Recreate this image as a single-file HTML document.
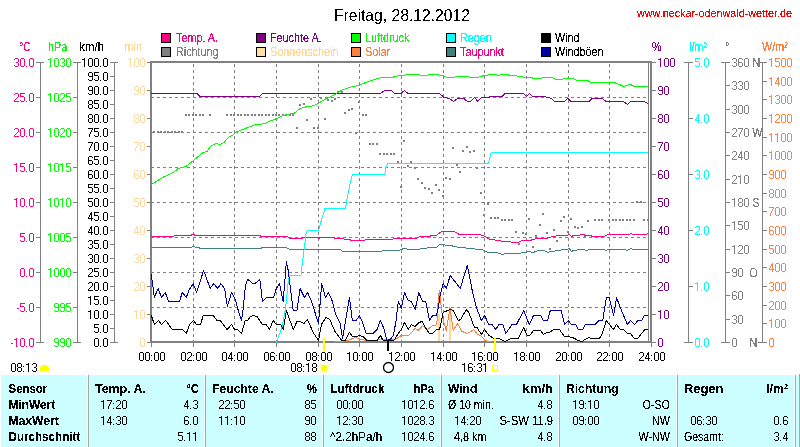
<!DOCTYPE html>
<html><head><meta charset="utf-8"><style>
html,body{margin:0;padding:0;background:#fff;width:800px;height:447px;overflow:hidden}
svg{display:block;font-family:"Liberation Sans",sans-serif}
</style></head><body>
<svg width="800" height="447" viewBox="0 0 800 447">
<rect width="800" height="447" fill="#fff"/>
<rect x="1" y="375" width="798" height="72" fill="#CCFFFF"/>
<rect x="87" y="375" width="1" height="72" fill="#FFFFFF"/>
<rect x="88" y="375" width="1" height="72" fill="#ACA899"/>
<rect x="204" y="375" width="1" height="72" fill="#FFFFFF"/>
<rect x="205" y="375" width="1" height="72" fill="#ACA899"/>
<rect x="322" y="375" width="1" height="72" fill="#FFFFFF"/>
<rect x="323" y="375" width="1" height="72" fill="#ACA899"/>
<rect x="440" y="375" width="1" height="72" fill="#FFFFFF"/>
<rect x="441" y="375" width="1" height="72" fill="#ACA899"/>
<rect x="558" y="375" width="1" height="72" fill="#FFFFFF"/>
<rect x="559" y="375" width="1" height="72" fill="#ACA899"/>
<rect x="676" y="375" width="1" height="72" fill="#FFFFFF"/>
<rect x="677" y="375" width="1" height="72" fill="#ACA899"/>
<rect x="794" y="375" width="1" height="72" fill="#FFFFFF"/>
<rect x="795" y="375" width="1" height="72" fill="#ACA899"/>
<rect x="799" y="374" width="1" height="73" fill="#ACA899"/>
<g shape-rendering="crispEdges">
<path d="M193.5 64V341 M234.5 64V341 M276.5 64V341 M318.5 64V341 M359.5 64V341 M401.5 64V341 M443.5 64V341 M484.5 64V341 M526.5 64V341 M568.5 64V341 M609.5 64V341 M151 97.5H648 M151 132.5H648 M151 167.5H648 M151 202.5H648 M151 237.5H648 M151 272.5H648 M151 307.5H648" stroke="#808080" stroke-width="1" stroke-dasharray="3 3" fill="none"/>
<rect x="161.5" y="33.5" width="9" height="9" fill="#FF0080" stroke="#000" stroke-width="1"/>
<rect x="161.5" y="47.5" width="9" height="9" fill="#808080" stroke="#000" stroke-width="1"/>
<rect x="256.5" y="33.5" width="9" height="9" fill="#800080" stroke="#000" stroke-width="1"/>
<rect x="256.5" y="47.5" width="9" height="9" fill="#FFE0A0" stroke="#000" stroke-width="1"/>
<rect x="351.5" y="33.5" width="9" height="9" fill="#00FF00" stroke="#000" stroke-width="1"/>
<rect x="351.5" y="47.5" width="9" height="9" fill="#FF8040" stroke="#000" stroke-width="1"/>
<rect x="446.5" y="33.5" width="9" height="9" fill="#00FFFF" stroke="#000" stroke-width="1"/>
<rect x="446.5" y="47.5" width="9" height="9" fill="#408080" stroke="#000" stroke-width="1"/>
<rect x="541.5" y="33.5" width="9" height="9" fill="#000" stroke="#000" stroke-width="1"/>
<rect x="541.5" y="47.5" width="9" height="9" fill="#0000A8" stroke="#000" stroke-width="1"/>
<rect x="150" y="61" width="2" height="282" fill="#808080"/>
<rect x="150" y="61" width="502" height="2" fill="#808080"/>
<rect x="150" y="341" width="502" height="2" fill="#808080"/>
<rect x="650" y="61" width="2" height="282" fill="#808080"/>
<rect x="648" y="63" width="1" height="278" fill="#808080"/>
<line x1="40.5" y1="62" x2="40.5" y2="343" stroke="#808080" stroke-width="1"/>
<line x1="36" y1="62.5" x2="44" y2="62.5" stroke="#808080" stroke-width="1"/>
<line x1="36" y1="97.5" x2="41" y2="97.5" stroke="#808080" stroke-width="1"/>
<line x1="36" y1="132.5" x2="41" y2="132.5" stroke="#808080" stroke-width="1"/>
<line x1="36" y1="167.5" x2="41" y2="167.5" stroke="#808080" stroke-width="1"/>
<line x1="36" y1="202.5" x2="41" y2="202.5" stroke="#808080" stroke-width="1"/>
<line x1="36" y1="237.5" x2="41" y2="237.5" stroke="#808080" stroke-width="1"/>
<line x1="36" y1="272.5" x2="41" y2="272.5" stroke="#808080" stroke-width="1"/>
<line x1="36" y1="307.5" x2="41" y2="307.5" stroke="#808080" stroke-width="1"/>
<line x1="36" y1="342.5" x2="44" y2="342.5" stroke="#808080" stroke-width="1"/>
<line x1="77.5" y1="62" x2="77.5" y2="343" stroke="#808080" stroke-width="1"/>
<line x1="73" y1="62.5" x2="81" y2="62.5" stroke="#808080" stroke-width="1"/>
<line x1="73" y1="97.5" x2="78" y2="97.5" stroke="#808080" stroke-width="1"/>
<line x1="73" y1="132.5" x2="78" y2="132.5" stroke="#808080" stroke-width="1"/>
<line x1="73" y1="167.5" x2="78" y2="167.5" stroke="#808080" stroke-width="1"/>
<line x1="73" y1="202.5" x2="78" y2="202.5" stroke="#808080" stroke-width="1"/>
<line x1="73" y1="237.5" x2="78" y2="237.5" stroke="#808080" stroke-width="1"/>
<line x1="73" y1="272.5" x2="78" y2="272.5" stroke="#808080" stroke-width="1"/>
<line x1="73" y1="307.5" x2="78" y2="307.5" stroke="#808080" stroke-width="1"/>
<line x1="73" y1="342.5" x2="81" y2="342.5" stroke="#808080" stroke-width="1"/>
<line x1="114.5" y1="62" x2="114.5" y2="343" stroke="#808080" stroke-width="1"/>
<line x1="110" y1="62.5" x2="118" y2="62.5" stroke="#808080" stroke-width="1"/>
<line x1="110" y1="76.5" x2="115" y2="76.5" stroke="#808080" stroke-width="1"/>
<line x1="110" y1="90.5" x2="115" y2="90.5" stroke="#808080" stroke-width="1"/>
<line x1="110" y1="104.5" x2="115" y2="104.5" stroke="#808080" stroke-width="1"/>
<line x1="110" y1="118.5" x2="115" y2="118.5" stroke="#808080" stroke-width="1"/>
<line x1="110" y1="132.5" x2="115" y2="132.5" stroke="#808080" stroke-width="1"/>
<line x1="110" y1="146.5" x2="115" y2="146.5" stroke="#808080" stroke-width="1"/>
<line x1="110" y1="160.5" x2="115" y2="160.5" stroke="#808080" stroke-width="1"/>
<line x1="110" y1="174.5" x2="115" y2="174.5" stroke="#808080" stroke-width="1"/>
<line x1="110" y1="188.5" x2="115" y2="188.5" stroke="#808080" stroke-width="1"/>
<line x1="110" y1="202.5" x2="115" y2="202.5" stroke="#808080" stroke-width="1"/>
<line x1="110" y1="216.5" x2="115" y2="216.5" stroke="#808080" stroke-width="1"/>
<line x1="110" y1="230.5" x2="115" y2="230.5" stroke="#808080" stroke-width="1"/>
<line x1="110" y1="244.5" x2="115" y2="244.5" stroke="#808080" stroke-width="1"/>
<line x1="110" y1="258.5" x2="115" y2="258.5" stroke="#808080" stroke-width="1"/>
<line x1="110" y1="272.5" x2="115" y2="272.5" stroke="#808080" stroke-width="1"/>
<line x1="110" y1="286.5" x2="115" y2="286.5" stroke="#808080" stroke-width="1"/>
<line x1="110" y1="300.5" x2="115" y2="300.5" stroke="#808080" stroke-width="1"/>
<line x1="110" y1="314.5" x2="115" y2="314.5" stroke="#808080" stroke-width="1"/>
<line x1="110" y1="328.5" x2="115" y2="328.5" stroke="#808080" stroke-width="1"/>
<line x1="110" y1="342.5" x2="118" y2="342.5" stroke="#808080" stroke-width="1"/>
<line x1="147" y1="62.5" x2="151" y2="62.5" stroke="#808080" stroke-width="1"/>
<line x1="147" y1="90.5" x2="151" y2="90.5" stroke="#808080" stroke-width="1"/>
<line x1="147" y1="118.5" x2="151" y2="118.5" stroke="#808080" stroke-width="1"/>
<line x1="147" y1="146.5" x2="151" y2="146.5" stroke="#808080" stroke-width="1"/>
<line x1="147" y1="174.5" x2="151" y2="174.5" stroke="#808080" stroke-width="1"/>
<line x1="147" y1="202.5" x2="151" y2="202.5" stroke="#808080" stroke-width="1"/>
<line x1="147" y1="230.5" x2="151" y2="230.5" stroke="#808080" stroke-width="1"/>
<line x1="147" y1="258.5" x2="151" y2="258.5" stroke="#808080" stroke-width="1"/>
<line x1="147" y1="286.5" x2="151" y2="286.5" stroke="#808080" stroke-width="1"/>
<line x1="147" y1="314.5" x2="151" y2="314.5" stroke="#808080" stroke-width="1"/>
<line x1="147" y1="342.5" x2="151" y2="342.5" stroke="#808080" stroke-width="1"/>
<line x1="151.5" y1="343" x2="151.5" y2="347" stroke="#808080" stroke-width="1"/>
<line x1="193.5" y1="343" x2="193.5" y2="347" stroke="#808080" stroke-width="1"/>
<line x1="234.5" y1="343" x2="234.5" y2="347" stroke="#808080" stroke-width="1"/>
<line x1="276.5" y1="343" x2="276.5" y2="347" stroke="#808080" stroke-width="1"/>
<line x1="318.5" y1="343" x2="318.5" y2="347" stroke="#808080" stroke-width="1"/>
<line x1="359.5" y1="343" x2="359.5" y2="347" stroke="#808080" stroke-width="1"/>
<line x1="401.5" y1="343" x2="401.5" y2="347" stroke="#808080" stroke-width="1"/>
<line x1="443.5" y1="343" x2="443.5" y2="347" stroke="#808080" stroke-width="1"/>
<line x1="484.5" y1="343" x2="484.5" y2="347" stroke="#808080" stroke-width="1"/>
<line x1="526.5" y1="343" x2="526.5" y2="347" stroke="#808080" stroke-width="1"/>
<line x1="568.5" y1="343" x2="568.5" y2="347" stroke="#808080" stroke-width="1"/>
<line x1="609.5" y1="343" x2="609.5" y2="347" stroke="#808080" stroke-width="1"/>
<line x1="651.5" y1="343" x2="651.5" y2="347" stroke="#808080" stroke-width="1"/>
<line x1="652" y1="62.5" x2="656" y2="62.5" stroke="#808080" stroke-width="1"/>
<line x1="652" y1="90.5" x2="656" y2="90.5" stroke="#808080" stroke-width="1"/>
<line x1="652" y1="118.5" x2="656" y2="118.5" stroke="#808080" stroke-width="1"/>
<line x1="652" y1="146.5" x2="656" y2="146.5" stroke="#808080" stroke-width="1"/>
<line x1="652" y1="174.5" x2="656" y2="174.5" stroke="#808080" stroke-width="1"/>
<line x1="652" y1="202.5" x2="656" y2="202.5" stroke="#808080" stroke-width="1"/>
<line x1="652" y1="230.5" x2="656" y2="230.5" stroke="#808080" stroke-width="1"/>
<line x1="652" y1="258.5" x2="656" y2="258.5" stroke="#808080" stroke-width="1"/>
<line x1="652" y1="286.5" x2="656" y2="286.5" stroke="#808080" stroke-width="1"/>
<line x1="652" y1="314.5" x2="656" y2="314.5" stroke="#808080" stroke-width="1"/>
<line x1="652" y1="342.5" x2="656" y2="342.5" stroke="#808080" stroke-width="1"/>
<line x1="688.5" y1="62" x2="688.5" y2="343" stroke="#808080" stroke-width="1"/>
<line x1="684" y1="62.5" x2="693" y2="62.5" stroke="#808080" stroke-width="1"/>
<line x1="688" y1="118.5" x2="693" y2="118.5" stroke="#808080" stroke-width="1"/>
<line x1="688" y1="174.5" x2="693" y2="174.5" stroke="#808080" stroke-width="1"/>
<line x1="688" y1="230.5" x2="693" y2="230.5" stroke="#808080" stroke-width="1"/>
<line x1="688" y1="286.5" x2="693" y2="286.5" stroke="#808080" stroke-width="1"/>
<line x1="684" y1="342.5" x2="693" y2="342.5" stroke="#808080" stroke-width="1"/>
<line x1="725.5" y1="62" x2="725.5" y2="343" stroke="#808080" stroke-width="1"/>
<line x1="721" y1="62.5" x2="730" y2="62.5" stroke="#808080" stroke-width="1"/>
<line x1="725" y1="85.5" x2="730" y2="85.5" stroke="#808080" stroke-width="1"/>
<line x1="725" y1="109.5" x2="730" y2="109.5" stroke="#808080" stroke-width="1"/>
<line x1="725" y1="132.5" x2="730" y2="132.5" stroke="#808080" stroke-width="1"/>
<line x1="725" y1="155.5" x2="730" y2="155.5" stroke="#808080" stroke-width="1"/>
<line x1="725" y1="179.5" x2="730" y2="179.5" stroke="#808080" stroke-width="1"/>
<line x1="725" y1="202.5" x2="730" y2="202.5" stroke="#808080" stroke-width="1"/>
<line x1="725" y1="225.5" x2="730" y2="225.5" stroke="#808080" stroke-width="1"/>
<line x1="725" y1="249.5" x2="730" y2="249.5" stroke="#808080" stroke-width="1"/>
<line x1="725" y1="272.5" x2="730" y2="272.5" stroke="#808080" stroke-width="1"/>
<line x1="725" y1="295.5" x2="730" y2="295.5" stroke="#808080" stroke-width="1"/>
<line x1="725" y1="319.5" x2="730" y2="319.5" stroke="#808080" stroke-width="1"/>
<line x1="721" y1="342.5" x2="730" y2="342.5" stroke="#808080" stroke-width="1"/>
<line x1="762.5" y1="62" x2="762.5" y2="343" stroke="#808080" stroke-width="1"/>
<line x1="758" y1="62.5" x2="767" y2="62.5" stroke="#808080" stroke-width="1"/>
<line x1="762" y1="81.5" x2="767" y2="81.5" stroke="#808080" stroke-width="1"/>
<line x1="762" y1="99.5" x2="767" y2="99.5" stroke="#808080" stroke-width="1"/>
<line x1="762" y1="118.5" x2="767" y2="118.5" stroke="#808080" stroke-width="1"/>
<line x1="762" y1="137.5" x2="767" y2="137.5" stroke="#808080" stroke-width="1"/>
<line x1="762" y1="155.5" x2="767" y2="155.5" stroke="#808080" stroke-width="1"/>
<line x1="762" y1="174.5" x2="767" y2="174.5" stroke="#808080" stroke-width="1"/>
<line x1="762" y1="193.5" x2="767" y2="193.5" stroke="#808080" stroke-width="1"/>
<line x1="762" y1="211.5" x2="767" y2="211.5" stroke="#808080" stroke-width="1"/>
<line x1="762" y1="230.5" x2="767" y2="230.5" stroke="#808080" stroke-width="1"/>
<line x1="762" y1="249.5" x2="767" y2="249.5" stroke="#808080" stroke-width="1"/>
<line x1="762" y1="267.5" x2="767" y2="267.5" stroke="#808080" stroke-width="1"/>
<line x1="762" y1="286.5" x2="767" y2="286.5" stroke="#808080" stroke-width="1"/>
<line x1="762" y1="305.5" x2="767" y2="305.5" stroke="#808080" stroke-width="1"/>
<line x1="762" y1="323.5" x2="767" y2="323.5" stroke="#808080" stroke-width="1"/>
<line x1="758" y1="342.5" x2="767" y2="342.5" stroke="#808080" stroke-width="1"/>
</g>
<rect x="438" y="314" width="2" height="27" fill="#FFD89C"/>
<rect x="449" y="310" width="2" height="31" fill="#FFD89C"/>
<path d="M150 131h2v2h-2zM153 131h2v2h-2zM157 131h2v2h-2zM160 131h2v2h-2zM164 131h2v2h-2zM167 131h2v2h-2zM171 131h2v2h-2zM174 131h2v2h-2zM178 131h2v2h-2zM181 131h2v2h-2zM185 114h2v2h-2zM188 114h2v2h-2zM192 114h2v2h-2zM195 114h2v2h-2zM199 114h2v2h-2zM202 114h2v2h-2zM209 114h2v2h-2zM226 114h2v2h-2zM230 114h2v2h-2zM233 114h2v2h-2zM237 114h2v2h-2zM240 114h2v2h-2zM244 114h2v2h-2zM247 114h2v2h-2zM251 114h2v2h-2zM254 114h2v2h-2zM258 114h2v2h-2zM261 114h2v2h-2zM265 114h2v2h-2zM268 114h2v2h-2zM272 114h2v2h-2zM275 114h2v2h-2zM278 114h2v2h-2zM282 114h2v2h-2zM285 114h2v2h-2zM289 114h2v2h-2zM292 114h2v2h-2zM296 127h2v2h-2zM299 104h2v2h-2zM303 103h2v2h-2zM306 119h2v2h-2zM310 98h2v2h-2zM313 127h2v2h-2zM317 127h2v2h-2zM320 97h2v2h-2zM324 118h2v2h-2zM327 99h2v2h-2zM331 100h2v2h-2zM334 98h2v2h-2zM337 91h2v2h-2zM341 91h2v2h-2zM344 112h2v2h-2zM348 109h2v2h-2zM351 108h2v2h-2zM355 132h2v2h-2zM358 101h2v2h-2zM362 114h2v2h-2zM365 114h2v2h-2zM369 143h2v2h-2zM372 143h2v2h-2zM376 143h2v2h-2zM379 153h2v2h-2zM383 153h2v2h-2zM386 153h2v2h-2zM390 153h2v2h-2zM393 153h2v2h-2zM397 161h2v2h-2zM400 186h2v2h-2zM403 140h2v2h-2zM407 165h2v2h-2zM410 161h2v2h-2zM414 167h2v2h-2zM417 178h2v2h-2zM421 182h2v2h-2zM424 187h2v2h-2zM428 188h2v2h-2zM431 192h2v2h-2zM435 184h2v2h-2zM438 189h2v2h-2zM442 195h2v2h-2zM445 177h2v2h-2zM449 178h2v2h-2zM452 147h2v2h-2zM456 164h2v2h-2zM459 171h2v2h-2zM462 150h2v2h-2zM466 146h2v2h-2zM469 151h2v2h-2zM473 150h2v2h-2zM476 167h2v2h-2zM480 192h2v2h-2zM483 214h2v2h-2zM487 203h2v2h-2zM490 217h2v2h-2zM494 217h2v2h-2zM497 217h2v2h-2zM501 219h2v2h-2zM504 219h2v2h-2zM508 219h2v2h-2zM511 219h2v2h-2zM515 231h2v2h-2zM518 243h2v2h-2zM522 232h2v2h-2zM525 233h2v2h-2zM528 218h2v2h-2zM532 246h2v2h-2zM535 235h2v2h-2zM539 224h2v2h-2zM542 213h2v2h-2zM546 232h2v2h-2zM549 248h2v2h-2zM553 229h2v2h-2zM556 240h2v2h-2zM560 220h2v2h-2zM563 216h2v2h-2zM567 231h2v2h-2zM570 218h2v2h-2zM574 226h2v2h-2zM577 227h2v2h-2zM581 226h2v2h-2zM584 235h2v2h-2zM587 220h2v2h-2zM594 219h2v2h-2zM598 219h2v2h-2zM601 219h2v2h-2zM608 219h2v2h-2zM612 219h2v2h-2zM615 219h2v2h-2zM619 219h2v2h-2zM622 219h2v2h-2zM626 219h2v2h-2zM629 219h2v2h-2zM633 219h2v2h-2zM636 201h2v2h-2zM640 201h2v2h-2zM643 219h2v2h-2zM647 219h2v2h-2z" fill="#808080" shape-rendering="crispEdges"/>
<path d="M151.00 93.50L197.00 93.50L200.00 96.50L259.60 96.50L262.70 93.50L380.40 93.50L384.40 90.50L391.40 90.50L394.50 93.50L401.10 93.50L404.30 90.50L408.20 93.50L439.50 93.50L444.20 97.50L449.60 98.50L453.60 101.50L457.50 98.50L463.70 98.50L467.60 101.50L470.50 101.50L474.70 97.50L477.80 101.50L481.70 97.50L488.00 97.50L491.10 96.50L502.10 96.50L505.20 93.50L523.20 93.50L526.30 96.50L529.50 93.50L532.60 96.50L544.30 96.50L548.20 97.50L551.40 98.50L554.50 101.50L564.70 101.50L567.80 98.50L571.00 101.50L589.00 101.50L592.10 98.50L602.30 98.50L606.20 101.50L623.50 101.50L627.40 104.50L630.50 101.50L643.90 101.50L648.00 103.50" fill="none" stroke="#800080" stroke-width="1" stroke-linejoin="round" shape-rendering="crispEdges"/>
<path d="M151.00 184.50L156.30 181.50L162.50 177.50L168.80 174.50L173.50 172.50L178.20 168.50L182.10 167.50L186.00 166.50L192.30 161.50L197.00 157.50L203.20 152.50L207.10 151.50L210.30 146.50L215.70 143.50L219.60 144.50L224.30 142.50L228.20 137.50L232.20 135.50L235.30 132.50L240.00 130.50L247.80 127.50L255.60 124.50L260.30 124.50L267.40 122.50L271.30 120.50L276.80 118.50L283.00 115.50L287.00 114.50L294.00 113.50L300.20 108.50L307.30 106.50L311.20 106.50L318.20 103.50L324.50 99.50L330.80 96.50L335.00 94.50L338.10 92.50L343.10 89.50L347.10 88.50L352.20 86.50L359.20 85.50L363.20 83.50L368.30 81.50L374.30 79.50L382.40 77.50L392.40 77.50L394.50 76.50L400.30 75.50L409.70 74.50L411.30 74.50L413.60 74.50L427.00 75.50L428.50 74.50L437.90 74.50L439.50 75.50L443.40 75.50L446.50 77.50L453.60 77.50L455.90 76.50L467.60 76.50L470.00 77.50L477.80 77.50L484.10 75.50L491.90 74.50L495.00 74.50L498.20 75.50L501.30 74.50L507.60 74.50L509.10 75.50L514.60 75.50L520.10 76.50L526.30 77.50L531.80 77.50L533.40 78.50L541.20 78.50L542.80 77.50L552.20 77.50L556.10 79.50L562.30 79.50L563.90 78.50L573.30 78.50L577.20 80.50L587.40 80.50L591.30 82.50L614.10 82.50L619.60 84.50L623.50 86.50L625.80 85.50L630.50 84.50L634.50 86.50L648.00 86.50" fill="none" stroke="#00FF00" stroke-width="1" stroke-linejoin="round" shape-rendering="crispEdges"/>
<path d="M151.00 236.50L173.75 236.50L174.50 235.50L191.00 235.50L192.00 234.50L194.00 234.50L195.00 235.50L260.00 235.50L261.00 236.50L287.00 236.50L290.00 238.50L302.00 238.50L303.00 237.50L318.00 237.50L319.00 238.50L320.00 237.50L333.70 237.50L335.00 238.50L343.70 238.50L344.40 239.50L350.00 239.50L351.25 240.50L364.40 240.50L365.60 239.50L392.50 239.50L393.75 238.50L416.25 238.50L418.10 237.50L420.60 236.50L430.00 236.50L431.25 235.50L436.25 235.50L440.00 232.50L441.90 231.50L454.40 231.50L459.40 234.50L479.40 234.50L485.00 236.50L490.00 239.50L500.00 240.50L502.50 241.50L510.00 241.50L512.50 242.50L518.10 242.50L522.50 240.50L530.00 240.50L536.25 238.50L545.00 238.50L550.00 237.50L552.00 236.50L555.10 236.50L556.40 235.50L567.20 235.50L569.00 234.50L571.70 236.50L573.60 235.50L579.30 235.50L581.25 234.50L583.80 234.50L585.00 235.50L590.80 235.50L592.10 236.50L603.60 236.50L606.10 235.50L608.70 234.50L629.10 234.50L631.00 233.50L632.90 234.50L645.70 234.50L648.00 233.50" fill="none" stroke="#FF0080" stroke-width="1" stroke-linejoin="round" shape-rendering="crispEdges"/>
<path d="M151.00 247.50L191.00 247.50L192.50 246.50L194.00 246.50L195.50 247.50L199.00 247.50L200.00 248.50L261.00 248.50L262.00 247.50L285.00 247.50L288.75 248.50L289.50 249.50L340.00 249.50L343.00 251.50L381.25 251.50L382.50 250.50L399.40 250.50L401.25 249.50L403.75 248.50L406.25 248.50L407.50 249.50L419.40 249.50L420.60 248.50L426.25 248.50L427.50 247.50L436.25 247.50L439.40 244.50L443.75 244.50L445.60 245.50L450.00 245.50L455.00 246.50L458.75 247.50L465.00 247.50L467.50 248.50L470.60 248.50L473.10 248.50L476.25 249.50L482.50 249.50L487.50 252.50L496.25 252.50L502.50 254.50L506.25 253.50L520.00 253.50L522.50 252.50L525.00 252.50L528.75 251.50L533.10 252.50L538.75 250.50L544.40 250.50L547.50 252.50L550.00 251.50L553.80 251.50L556.40 250.50L566.60 249.50L569.00 248.50L571.70 251.50L573.60 250.50L580.60 249.50L583.80 249.50L585.70 250.50L590.80 249.50L603.60 249.50L606.10 250.50L608.70 249.50L625.30 249.50L627.20 250.50L631.00 248.50L633.50 249.50L648.00 249.50" fill="none" stroke="#408080" stroke-width="1" stroke-linejoin="round" shape-rendering="crispEdges"/>
<path d="M276.40 342.50L281.90 327.50L285.60 308.50L288.40 280.50L289.90 275.50L301.00 275.50L302.40 262.50L306.10 233.50L307.20 230.50L318.70 230.50L319.50 226.50L325.00 208.50L345.50 208.50L346.80 200.50L349.60 185.50L352.40 174.50L384.70 174.50L386.00 167.50L387.50 163.50L488.50 163.50L491.10 152.50L648.00 152.50" fill="none" stroke="#00FFFF" stroke-width="1" stroke-linejoin="round" shape-rendering="crispEdges"/>
<path d="M334.00 341.50L340.00 341.50L347.50 340.50L355.70 337.50L360.70 339.50L367.00 340.50L376.30 340.50L380.00 339.50L390.10 339.50L395.10 339.50L401.40 335.50L408.30 335.50L415.20 328.50L418.30 330.50L422.70 325.50L427.70 329.50L432.70 325.50L435.90 325.50L437.10 320.50L438.40 295.50L439.50 290.50L440.50 300.50L442.50 317.50L446.30 330.50L450.00 307.50L453.20 330.50L457.60 323.50L462.00 331.50L467.60 333.50L473.80 329.50L477.60 334.50L480.70 335.50L485.10 340.50L489.50 341.50L492.00 341.50" fill="none" stroke="#FF8040" stroke-width="1" stroke-linejoin="round" shape-rendering="crispEdges"/>
<path d="M151.30 274.50L154.40 297.50L158.10 288.50L161.50 297.50L165.30 292.50L168.50 301.50L179.40 301.50L182.30 292.50L186.30 297.50L188.80 290.50L193.20 283.50L196.60 292.50L203.60 270.50L210.20 288.50L213.70 283.50L217.70 288.50L220.80 283.50L224.60 288.50L227.40 306.50L231.50 292.50L235.20 299.50L238.30 310.50L241.50 320.50L243.40 307.50L244.60 292.50L246.50 281.50L248.10 279.50L252.50 283.50L255.00 283.50L259.80 279.50L262.50 301.50L266.30 297.50L273.60 297.50L276.30 288.50L279.50 283.50L283.20 301.50L284.80 281.50L286.40 261.50L288.20 270.50L293.20 310.50L297.00 310.50L300.10 288.50L304.40 297.50L307.50 292.50L310.90 299.50L318.50 323.50L321.70 283.50L325.50 297.50L328.30 292.50L332.00 300.50L335.60 314.50L340.00 322.50L342.50 338.50L345.60 320.50L349.40 297.50L351.90 317.50L352.50 320.50L356.30 320.50L359.40 315.50L362.60 322.50L366.30 333.50L373.20 333.50L377.00 329.50L380.40 320.50L383.90 328.50L387.00 340.50L390.10 339.50L393.30 335.50L395.80 322.50L398.30 301.50L401.40 308.50L404.50 292.50L408.30 300.50L411.40 301.50L415.20 309.50L418.70 292.50L422.70 301.50L425.80 301.50L429.60 320.50L432.70 315.50L436.50 315.50L438.40 307.50L440.10 295.50L443.10 283.50L446.40 288.50L450.20 275.50L455.70 282.50L460.20 288.50L467.30 265.50L472.60 292.50L476.40 307.50L481.40 320.50L484.50 315.50L488.90 324.50L492.00 324.50L495.80 329.50L498.90 324.50L502.70 324.50L505.80 333.50L512.10 324.50L516.50 324.50L523.70 310.50L529.20 324.50L533.50 315.50L540.70 315.50L543.50 320.50L547.50 320.50L550.30 310.50L561.30 310.50L564.50 324.50L568.20 320.50L571.40 324.50L575.70 324.50L578.20 329.50L582.60 329.50L585.10 324.50L595.20 324.50L598.90 320.50L602.70 320.50L606.40 297.50L609.20 297.50L613.70 315.50L616.50 297.50L620.20 307.50L627.40 324.50L630.50 320.50L634.80 324.50L637.70 320.50L641.60 320.50L644.40 315.50L648.00 315.50" fill="none" stroke="#0000A8" stroke-width="1" stroke-linejoin="round" shape-rendering="crispEdges"/>
<path d="M151.30 315.50L154.40 324.50L158.50 320.50L161.50 324.50L165.70 320.50L172.30 329.50L182.30 329.50L186.30 333.50L189.50 324.50L193.60 320.50L196.60 324.50L200.40 324.50L203.30 315.50L213.30 315.50L217.00 320.50L220.20 320.50L227.10 329.50L231.50 324.50L234.60 329.50L237.70 329.50L241.50 333.50L245.20 320.50L247.50 320.50L250.60 316.50L253.80 315.50L256.90 316.50L262.50 324.50L266.30 324.50L269.40 329.50L273.20 320.50L276.30 324.50L280.70 324.50L283.20 329.50L286.40 310.50L293.20 329.50L297.00 321.50L300.10 321.50L303.90 323.50L307.50 319.50L313.20 332.50L318.50 340.50L321.40 324.50L326.00 317.50L329.80 319.50L335.00 331.50L341.70 340.50L345.00 340.50L349.40 332.50L352.50 336.50L356.30 336.50L359.40 335.50L363.20 336.50L367.00 340.50L377.00 340.50L380.40 335.50L383.20 340.50L393.90 340.50L397.60 334.50L401.40 329.50L404.50 322.50L408.30 329.50L411.40 324.50L415.20 326.50L419.00 322.50L422.10 321.50L426.50 329.50L429.60 333.50L432.70 333.50L436.50 329.50L439.60 329.50L443.10 312.50L450.00 309.50L453.20 310.50L458.20 320.50L460.70 319.50L466.30 309.50L468.80 312.50L474.50 327.50L477.00 327.50L481.40 334.50L484.50 329.50L488.90 335.50L493.90 338.50L498.90 338.50L505.20 341.50L511.40 338.50L518.30 338.50L523.70 327.50L527.10 335.50L529.60 335.50L533.50 330.50L540.70 330.50L543.50 334.50L546.90 332.50L549.40 332.50L553.80 329.50L559.40 329.50L564.50 336.50L567.60 336.50L572.60 337.50L578.20 340.50L582.00 341.50L585.10 339.50L588.90 337.50L591.40 338.50L599.50 338.50L602.70 332.50L606.20 320.50L613.30 329.50L616.50 324.50L620.20 329.50L623.40 329.50L627.50 333.50L630.50 333.50L634.40 338.50L637.70 338.50L641.60 333.50L644.80 329.50L648.00 329.50" fill="none" stroke="#000000" stroke-width="1" stroke-linejoin="round" shape-rendering="crispEdges"/>
<rect x="323" y="338" width="2" height="13" fill="#FFFF00"/>
<rect x="494" y="338" width="2" height="13" fill="#FFFF00"/>
<rect x="387" y="340" width="2" height="11" fill="#000"/>
<circle cx="388.5" cy="367.5" r="5" fill="none" stroke="#000" stroke-width="1.3"/>
<rect x="492.5" y="365.5" width="5" height="5" fill="none" stroke="#FFFF00" stroke-width="1"/>
<g transform="translate(324 368)"><g stroke="#FFFF99" stroke-width="1.2"><line x1="3.50" y1="0.00" x2="6.50" y2="0.00"/><line x1="2.47" y1="2.47" x2="4.60" y2="4.60"/><line x1="0.00" y1="3.50" x2="0.00" y2="6.50"/><line x1="-2.47" y1="2.47" x2="-4.60" y2="4.60"/><line x1="-3.50" y1="0.00" x2="-6.50" y2="0.00"/><line x1="-2.47" y1="-2.47" x2="-4.60" y2="-4.60"/><line x1="-0.00" y1="-3.50" x2="-0.00" y2="-6.50"/><line x1="2.47" y1="-2.47" x2="4.60" y2="-4.60"/></g><circle r="3.2" fill="#FFFF00"/></g>
<path d="M40 371V367.5Q40 366 41.5 366L42.5 365H46.5L47.5 366Q49 366 49 367.5V371Z" fill="#FFFF00"/>
<defs><filter id="aa2"><feComponentTransfer><feFuncA type="discrete" tableValues="0 1"/></feComponentTransfer></filter><filter id="aa" x="0" y="0" width="100%" height="100%" filterUnits="userSpaceOnUse"><feComponentTransfer><feFuncA type="discrete" tableValues="0 0 1 1 1"/></feComponentTransfer></filter></defs>
<g filter="url(#aa)">
<text transform="translate(334 21) scale(0.98 1)" font-size="16" fill="#000" text-anchor="start" filter="url(#aa2)">Freitag, 28.12.2012</text>
<text transform="translate(637 16.5) scale(0.98 1)" font-size="11" fill="#FF0000" text-anchor="start">www.neckar-odenwald-wetter.de</text>
<text transform="translate(176 42) scale(0.9 1)" font-size="12" fill="#FF0080" text-anchor="start">Temp. A.</text>
<text transform="translate(176 56) scale(0.9 1)" font-size="12" fill="#808080" text-anchor="start">Richtung</text>
<text transform="translate(270 42) scale(0.9 1)" font-size="12" fill="#800080" text-anchor="start">Feuchte A.</text>
<text transform="translate(270 56) scale(0.9 1)" font-size="12" fill="#FFD89C" text-anchor="start">Sonnenschein</text>
<text transform="translate(365 42) scale(0.9 1)" font-size="12" fill="#00FF00" text-anchor="start">Luftdruck</text>
<text transform="translate(365 56) scale(0.9 1)" font-size="12" fill="#FF8040" text-anchor="start">Solar</text>
<text transform="translate(460 42) scale(0.9 1)" font-size="12" fill="#00FFFF" text-anchor="start">Regen</text>
<text transform="translate(460 56) scale(0.9 1)" font-size="12" fill="#FF0080" text-anchor="start">Taupunkt</text>
<text transform="translate(555 42) scale(0.9 1)" font-size="12" fill="#000" text-anchor="start">Wind</text>
<text transform="translate(555 56) scale(0.9 1)" font-size="12" fill="#000" text-anchor="start">Windböen</text>
<text transform="translate(19 51) scale(0.9 1)" font-size="12" fill="#FF0080" text-anchor="start">°C</text>
<text transform="translate(48 51) scale(0.9 1)" font-size="12" fill="#00FF00" text-anchor="start">hPa</text>
<text transform="translate(79.3 51) scale(0.95 1)" font-size="12" fill="#000" text-anchor="start">km/h</text>
<text transform="translate(124.5 51) scale(0.9 1)" font-size="12" fill="#FFD89C" text-anchor="start">min</text>
<text transform="translate(652 51) scale(0.9 1)" font-size="12" fill="#800080" text-anchor="start">%</text>
<text transform="translate(689 51) scale(0.9 1)" font-size="12" fill="#00FFFF" text-anchor="start">l/m²</text>
<text transform="translate(725 51) scale(0.9 1)" font-size="12" fill="#808080" text-anchor="start">°</text>
<text transform="translate(756.3 67) scale(0.9 1)" font-size="12" fill="#808080" text-anchor="middle">N</text>
<text transform="translate(757.3 137) scale(0.9 1)" font-size="12" fill="#808080" text-anchor="middle">W</text>
<text transform="translate(756 207) scale(0.9 1)" font-size="12" fill="#808080" text-anchor="middle">S</text>
<text transform="translate(753.5 277) scale(0.9 1)" font-size="12" fill="#808080" text-anchor="middle">O</text>
<text transform="translate(753.3 347) scale(0.9 1)" font-size="12" fill="#808080" text-anchor="middle">N</text>
<text transform="translate(762 51) scale(0.9 1)" font-size="12" fill="#FF8040" text-anchor="start">W/m²</text>
<text transform="translate(8.5 393) scale(0.955 1)" font-size="12" font-weight="bold" fill="#000" text-anchor="start">Sensor</text>
<text transform="translate(8.5 409) scale(0.995 1)" font-size="12" font-weight="bold" fill="#000" text-anchor="start">MinWert</text>
<text transform="translate(8.5 425) scale(1.013 1)" font-size="12" font-weight="bold" fill="#000" text-anchor="start">MaxWert</text>
<text transform="translate(8.5 441) scale(0.971 1)" font-size="12" font-weight="bold" fill="#000" text-anchor="start">Durchschnitt</text>
<text transform="translate(95 393) scale(1.033 1)" font-size="12" font-weight="bold" fill="#000" text-anchor="start">Temp. A.</text>
<text transform="translate(199 393) scale(0.93 1)" font-size="12" font-weight="bold" fill="#000" text-anchor="end">°C</text>
<text transform="translate(212 393) scale(1.015 1)" font-size="12" font-weight="bold" fill="#000" text-anchor="start">Feuchte A.</text>
<text transform="translate(317 393) scale(0.93 1)" font-size="12" font-weight="bold" fill="#000" text-anchor="end">%</text>
<text transform="translate(330 393) scale(0.986 1)" font-size="12" font-weight="bold" fill="#000" text-anchor="start">Luftdruck</text>
<text transform="translate(434 393) scale(0.93 1)" font-size="12" font-weight="bold" fill="#000" text-anchor="end">hPa</text>
<text transform="translate(330 441) scale(0.976 1)" font-size="12" fill="#000" text-anchor="start">^2.2hPa/h</text>
<text x="448" y="393" font-size="12" font-weight="bold" fill="#000" text-anchor="start">Wind</text>
<text transform="translate(553 393) scale(1.085 1)" font-size="12" font-weight="bold" fill="#000" text-anchor="end">km/h</text>
<text transform="translate(448 409) scale(0.88 1)" font-size="12" fill="#000" text-anchor="start">Ø 10 min.</text>
<text transform="translate(553 425) scale(0.936 1)" font-size="12" fill="#000" text-anchor="end">S-SW 11.9</text>
<text transform="translate(454 441) scale(0.9 1)" font-size="12" fill="#000" text-anchor="start">4,8 km</text>
<text transform="translate(566 393) scale(1.01 1)" font-size="12" font-weight="bold" fill="#000" text-anchor="start">Richtung</text>
<text transform="translate(670 409) scale(0.9 1)" font-size="12" fill="#000" text-anchor="end">O-SO</text>
<text transform="translate(670 425) scale(0.9 1)" font-size="12" fill="#000" text-anchor="end">NW</text>
<text transform="translate(670 441) scale(0.9 1)" font-size="12" fill="#000" text-anchor="end">W-NW</text>
<text transform="translate(684 393) scale(1.075 1)" font-size="12" font-weight="bold" fill="#000" text-anchor="start">Regen</text>
<text transform="translate(788 393) scale(1.03 1)" font-size="12" font-weight="bold" fill="#000" text-anchor="end">l/m²</text>
<text transform="translate(684 441) scale(0.88 1)" font-size="12" fill="#000" text-anchor="start">Gesamt:</text>
</g>
<defs><path id="d0" d="M1 0h3v1h-3zM0 1h1v1h-1zM4 1h1v1h-1zM0 2h1v1h-1zM4 2h1v1h-1zM0 3h1v1h-1zM4 3h1v1h-1zM0 4h1v1h-1zM4 4h1v1h-1zM0 5h1v1h-1zM4 5h1v1h-1zM0 6h1v1h-1zM4 6h1v1h-1zM0 7h1v1h-1zM4 7h1v1h-1zM1 8h3v1h-3z"/><path id="d1" d="M2 0h1v1h-1zM0 1h3v1h-3zM2 2h1v1h-1zM2 3h1v1h-1zM2 4h1v1h-1zM2 5h1v1h-1zM2 6h1v1h-1zM2 7h1v1h-1zM2 8h1v1h-1z"/><path id="d2" d="M1 0h3v1h-3zM0 1h1v1h-1zM4 1h1v1h-1zM4 2h1v1h-1zM4 3h1v1h-1zM3 4h1v1h-1zM2 5h1v1h-1zM1 6h1v1h-1zM0 7h1v1h-1zM0 8h5v1h-5z"/><path id="d3" d="M1 0h3v1h-3zM0 1h1v1h-1zM4 1h1v1h-1zM4 2h1v1h-1zM4 3h1v1h-1zM2 4h2v1h-2zM4 5h1v1h-1zM4 6h1v1h-1zM0 7h1v1h-1zM4 7h1v1h-1zM1 8h3v1h-3z"/><path id="d4" d="M3 0h1v1h-1zM2 1h2v1h-2zM2 2h2v1h-2zM1 3h1v1h-1zM3 3h1v1h-1zM1 4h1v1h-1zM3 4h1v1h-1zM0 5h1v1h-1zM3 5h1v1h-1zM0 6h5v1h-5zM3 7h1v1h-1zM3 8h1v1h-1z"/><path id="d5" d="M0 0h5v1h-5zM0 1h1v1h-1zM0 2h1v1h-1zM0 3h4v1h-4zM4 4h1v1h-1zM4 5h1v1h-1zM4 6h1v1h-1zM0 7h1v1h-1zM4 7h1v1h-1zM1 8h3v1h-3z"/><path id="d6" d="M1 0h3v1h-3zM0 1h1v1h-1zM4 1h1v1h-1zM0 2h1v1h-1zM0 3h1v1h-1zM0 4h4v1h-4zM0 5h1v1h-1zM4 5h1v1h-1zM0 6h1v1h-1zM4 6h1v1h-1zM0 7h1v1h-1zM4 7h1v1h-1zM1 8h3v1h-3z"/><path id="d7" d="M0 0h5v1h-5zM4 1h1v1h-1zM3 2h1v1h-1zM3 3h1v1h-1zM2 4h1v1h-1zM2 5h1v1h-1zM1 6h1v1h-1zM1 7h1v1h-1zM1 8h1v1h-1z"/><path id="d8" d="M1 0h3v1h-3zM0 1h1v1h-1zM4 1h1v1h-1zM0 2h1v1h-1zM4 2h1v1h-1zM0 3h1v1h-1zM4 3h1v1h-1zM1 4h3v1h-3zM0 5h1v1h-1zM4 5h1v1h-1zM0 6h1v1h-1zM4 6h1v1h-1zM0 7h1v1h-1zM4 7h1v1h-1zM1 8h3v1h-3z"/><path id="d9" d="M1 0h3v1h-3zM0 1h1v1h-1zM4 1h1v1h-1zM0 2h1v1h-1zM4 2h1v1h-1zM0 3h1v1h-1zM4 3h1v1h-1zM1 4h4v1h-4zM4 5h1v1h-1zM4 6h1v1h-1zM0 7h1v1h-1zM4 7h1v1h-1zM1 8h3v1h-3z"/><path id="dp" d="M0 8h1v1h-1z"/><path id="dc" d="M0 3h1v1h-1zM0 8h1v1h-1z"/><path id="dm" d="M0 5h2v1h-2z"/></defs>
<g shape-rendering="crispEdges">
<g fill="#FF0080"><use href="#d3" x="14" y="58"/><use href="#d0" x="20" y="58"/><use href="#dp" x="26" y="58"/><use href="#d0" x="29" y="58"/></g>
<g fill="#FF0080"><use href="#d2" x="14" y="93"/><use href="#d5" x="20" y="93"/><use href="#dp" x="26" y="93"/><use href="#d0" x="29" y="93"/></g>
<g fill="#FF0080"><use href="#d2" x="14" y="128"/><use href="#d0" x="20" y="128"/><use href="#dp" x="26" y="128"/><use href="#d0" x="29" y="128"/></g>
<g fill="#FF0080"><use href="#d1" x="14" y="163"/><use href="#d5" x="20" y="163"/><use href="#dp" x="26" y="163"/><use href="#d0" x="29" y="163"/></g>
<g fill="#FF0080"><use href="#d1" x="14" y="198"/><use href="#d0" x="20" y="198"/><use href="#dp" x="26" y="198"/><use href="#d0" x="29" y="198"/></g>
<g fill="#FF0080"><use href="#d5" x="20" y="233"/><use href="#dp" x="26" y="233"/><use href="#d0" x="29" y="233"/></g>
<g fill="#FF0080"><use href="#d0" x="20" y="268"/><use href="#dp" x="26" y="268"/><use href="#d0" x="29" y="268"/></g>
<g fill="#FF0080"><use href="#dm" x="17" y="303"/><use href="#d5" x="20" y="303"/><use href="#dp" x="26" y="303"/><use href="#d0" x="29" y="303"/></g>
<g fill="#FF0080"><use href="#dm" x="11" y="338"/><use href="#d1" x="14" y="338"/><use href="#d0" x="20" y="338"/><use href="#dp" x="26" y="338"/><use href="#d0" x="29" y="338"/></g>
<g fill="#00FF00"><use href="#d1" x="48" y="58"/><use href="#d0" x="54" y="58"/><use href="#d3" x="60" y="58"/><use href="#d0" x="66" y="58"/></g>
<g fill="#00FF00"><use href="#d1" x="48" y="93"/><use href="#d0" x="54" y="93"/><use href="#d2" x="60" y="93"/><use href="#d5" x="66" y="93"/></g>
<g fill="#00FF00"><use href="#d1" x="48" y="128"/><use href="#d0" x="54" y="128"/><use href="#d2" x="60" y="128"/><use href="#d0" x="66" y="128"/></g>
<g fill="#00FF00"><use href="#d1" x="48" y="163"/><use href="#d0" x="54" y="163"/><use href="#d1" x="60" y="163"/><use href="#d5" x="66" y="163"/></g>
<g fill="#00FF00"><use href="#d1" x="48" y="198"/><use href="#d0" x="54" y="198"/><use href="#d1" x="60" y="198"/><use href="#d0" x="66" y="198"/></g>
<g fill="#00FF00"><use href="#d1" x="48" y="233"/><use href="#d0" x="54" y="233"/><use href="#d0" x="60" y="233"/><use href="#d5" x="66" y="233"/></g>
<g fill="#00FF00"><use href="#d1" x="48" y="268"/><use href="#d0" x="54" y="268"/><use href="#d0" x="60" y="268"/><use href="#d0" x="66" y="268"/></g>
<g fill="#00FF00"><use href="#d9" x="54" y="303"/><use href="#d9" x="60" y="303"/><use href="#d5" x="66" y="303"/></g>
<g fill="#00FF00"><use href="#d9" x="54" y="338"/><use href="#d9" x="60" y="338"/><use href="#d0" x="66" y="338"/></g>
<g fill="#000"><use href="#d1" x="82" y="58"/><use href="#d0" x="88" y="58"/><use href="#d0" x="94" y="58"/><use href="#dp" x="100" y="58"/><use href="#d0" x="103" y="58"/></g>
<g fill="#000"><use href="#d9" x="88" y="72"/><use href="#d5" x="94" y="72"/><use href="#dp" x="100" y="72"/><use href="#d0" x="103" y="72"/></g>
<g fill="#000"><use href="#d9" x="88" y="86"/><use href="#d0" x="94" y="86"/><use href="#dp" x="100" y="86"/><use href="#d0" x="103" y="86"/></g>
<g fill="#000"><use href="#d8" x="88" y="100"/><use href="#d5" x="94" y="100"/><use href="#dp" x="100" y="100"/><use href="#d0" x="103" y="100"/></g>
<g fill="#000"><use href="#d8" x="88" y="114"/><use href="#d0" x="94" y="114"/><use href="#dp" x="100" y="114"/><use href="#d0" x="103" y="114"/></g>
<g fill="#000"><use href="#d7" x="88" y="128"/><use href="#d5" x="94" y="128"/><use href="#dp" x="100" y="128"/><use href="#d0" x="103" y="128"/></g>
<g fill="#000"><use href="#d7" x="88" y="142"/><use href="#d0" x="94" y="142"/><use href="#dp" x="100" y="142"/><use href="#d0" x="103" y="142"/></g>
<g fill="#000"><use href="#d6" x="88" y="156"/><use href="#d5" x="94" y="156"/><use href="#dp" x="100" y="156"/><use href="#d0" x="103" y="156"/></g>
<g fill="#000"><use href="#d6" x="88" y="170"/><use href="#d0" x="94" y="170"/><use href="#dp" x="100" y="170"/><use href="#d0" x="103" y="170"/></g>
<g fill="#000"><use href="#d5" x="88" y="184"/><use href="#d5" x="94" y="184"/><use href="#dp" x="100" y="184"/><use href="#d0" x="103" y="184"/></g>
<g fill="#000"><use href="#d5" x="88" y="198"/><use href="#d0" x="94" y="198"/><use href="#dp" x="100" y="198"/><use href="#d0" x="103" y="198"/></g>
<g fill="#000"><use href="#d4" x="88" y="212"/><use href="#d5" x="94" y="212"/><use href="#dp" x="100" y="212"/><use href="#d0" x="103" y="212"/></g>
<g fill="#000"><use href="#d4" x="88" y="226"/><use href="#d0" x="94" y="226"/><use href="#dp" x="100" y="226"/><use href="#d0" x="103" y="226"/></g>
<g fill="#000"><use href="#d3" x="88" y="240"/><use href="#d5" x="94" y="240"/><use href="#dp" x="100" y="240"/><use href="#d0" x="103" y="240"/></g>
<g fill="#000"><use href="#d3" x="88" y="254"/><use href="#d0" x="94" y="254"/><use href="#dp" x="100" y="254"/><use href="#d0" x="103" y="254"/></g>
<g fill="#000"><use href="#d2" x="88" y="268"/><use href="#d5" x="94" y="268"/><use href="#dp" x="100" y="268"/><use href="#d0" x="103" y="268"/></g>
<g fill="#000"><use href="#d2" x="88" y="282"/><use href="#d0" x="94" y="282"/><use href="#dp" x="100" y="282"/><use href="#d0" x="103" y="282"/></g>
<g fill="#000"><use href="#d1" x="88" y="296"/><use href="#d5" x="94" y="296"/><use href="#dp" x="100" y="296"/><use href="#d0" x="103" y="296"/></g>
<g fill="#000"><use href="#d1" x="88" y="310"/><use href="#d0" x="94" y="310"/><use href="#dp" x="100" y="310"/><use href="#d0" x="103" y="310"/></g>
<g fill="#000"><use href="#d5" x="94" y="324"/><use href="#dp" x="100" y="324"/><use href="#d0" x="103" y="324"/></g>
<g fill="#000"><use href="#d0" x="94" y="338"/><use href="#dp" x="100" y="338"/><use href="#d0" x="103" y="338"/></g>
<g fill="#FFD89C"><use href="#d1" x="128" y="58"/><use href="#d0" x="134" y="58"/><use href="#d0" x="140" y="58"/></g>
<g fill="#FFD89C"><use href="#d9" x="134" y="86"/><use href="#d0" x="140" y="86"/></g>
<g fill="#FFD89C"><use href="#d8" x="134" y="114"/><use href="#d0" x="140" y="114"/></g>
<g fill="#FFD89C"><use href="#d7" x="134" y="142"/><use href="#d0" x="140" y="142"/></g>
<g fill="#FFD89C"><use href="#d6" x="134" y="170"/><use href="#d0" x="140" y="170"/></g>
<g fill="#FFD89C"><use href="#d5" x="134" y="198"/><use href="#d0" x="140" y="198"/></g>
<g fill="#FFD89C"><use href="#d4" x="134" y="226"/><use href="#d0" x="140" y="226"/></g>
<g fill="#FFD89C"><use href="#d3" x="134" y="254"/><use href="#d0" x="140" y="254"/></g>
<g fill="#FFD89C"><use href="#d2" x="134" y="282"/><use href="#d0" x="140" y="282"/></g>
<g fill="#FFD89C"><use href="#d1" x="134" y="310"/><use href="#d0" x="140" y="310"/></g>
<g fill="#FFD89C"><use href="#d0" x="140" y="338"/></g>
<g fill="#000"><use href="#d0" x="139" y="352"/><use href="#d0" x="145" y="352"/><use href="#dc" x="151" y="352"/><use href="#d0" x="154" y="352"/><use href="#d0" x="160" y="352"/></g>
<g fill="#000"><use href="#d0" x="181" y="352"/><use href="#d2" x="187" y="352"/><use href="#dc" x="193" y="352"/><use href="#d0" x="196" y="352"/><use href="#d0" x="202" y="352"/></g>
<g fill="#000"><use href="#d0" x="222" y="352"/><use href="#d4" x="228" y="352"/><use href="#dc" x="234" y="352"/><use href="#d0" x="237" y="352"/><use href="#d0" x="243" y="352"/></g>
<g fill="#000"><use href="#d0" x="264" y="352"/><use href="#d6" x="270" y="352"/><use href="#dc" x="276" y="352"/><use href="#d0" x="279" y="352"/><use href="#d0" x="285" y="352"/></g>
<g fill="#000"><use href="#d0" x="306" y="352"/><use href="#d8" x="312" y="352"/><use href="#dc" x="318" y="352"/><use href="#d0" x="321" y="352"/><use href="#d0" x="327" y="352"/></g>
<g fill="#000"><use href="#d1" x="347" y="352"/><use href="#d0" x="353" y="352"/><use href="#dc" x="359" y="352"/><use href="#d0" x="362" y="352"/><use href="#d0" x="368" y="352"/></g>
<g fill="#000"><use href="#d1" x="389" y="352"/><use href="#d2" x="395" y="352"/><use href="#dc" x="401" y="352"/><use href="#d0" x="404" y="352"/><use href="#d0" x="410" y="352"/></g>
<g fill="#000"><use href="#d1" x="431" y="352"/><use href="#d4" x="437" y="352"/><use href="#dc" x="443" y="352"/><use href="#d0" x="446" y="352"/><use href="#d0" x="452" y="352"/></g>
<g fill="#000"><use href="#d1" x="472" y="352"/><use href="#d6" x="478" y="352"/><use href="#dc" x="484" y="352"/><use href="#d0" x="487" y="352"/><use href="#d0" x="493" y="352"/></g>
<g fill="#000"><use href="#d1" x="514" y="352"/><use href="#d8" x="520" y="352"/><use href="#dc" x="526" y="352"/><use href="#d0" x="529" y="352"/><use href="#d0" x="535" y="352"/></g>
<g fill="#000"><use href="#d2" x="556" y="352"/><use href="#d0" x="562" y="352"/><use href="#dc" x="568" y="352"/><use href="#d0" x="571" y="352"/><use href="#d0" x="577" y="352"/></g>
<g fill="#000"><use href="#d2" x="597" y="352"/><use href="#d2" x="603" y="352"/><use href="#dc" x="609" y="352"/><use href="#d0" x="612" y="352"/><use href="#d0" x="618" y="352"/></g>
<g fill="#000"><use href="#d2" x="639" y="352"/><use href="#d4" x="645" y="352"/><use href="#dc" x="651" y="352"/><use href="#d0" x="654" y="352"/><use href="#d0" x="660" y="352"/></g>
<g fill="#800080"><use href="#d1" x="658" y="58"/><use href="#d0" x="664" y="58"/><use href="#d0" x="670" y="58"/></g>
<g fill="#800080"><use href="#d9" x="658" y="86"/><use href="#d0" x="664" y="86"/></g>
<g fill="#800080"><use href="#d8" x="658" y="114"/><use href="#d0" x="664" y="114"/></g>
<g fill="#800080"><use href="#d7" x="658" y="142"/><use href="#d0" x="664" y="142"/></g>
<g fill="#800080"><use href="#d6" x="658" y="170"/><use href="#d0" x="664" y="170"/></g>
<g fill="#800080"><use href="#d5" x="658" y="198"/><use href="#d0" x="664" y="198"/></g>
<g fill="#800080"><use href="#d4" x="658" y="226"/><use href="#d0" x="664" y="226"/></g>
<g fill="#800080"><use href="#d3" x="658" y="254"/><use href="#d0" x="664" y="254"/></g>
<g fill="#800080"><use href="#d2" x="658" y="282"/><use href="#d0" x="664" y="282"/></g>
<g fill="#800080"><use href="#d1" x="658" y="310"/><use href="#d0" x="664" y="310"/></g>
<g fill="#800080"><use href="#d0" x="658" y="338"/></g>
<g fill="#00FFFF"><use href="#d5" x="695" y="58"/><use href="#dp" x="701" y="58"/><use href="#d0" x="704" y="58"/></g>
<g fill="#00FFFF"><use href="#d4" x="695" y="114"/><use href="#dp" x="701" y="114"/><use href="#d0" x="704" y="114"/></g>
<g fill="#00FFFF"><use href="#d3" x="695" y="170"/><use href="#dp" x="701" y="170"/><use href="#d0" x="704" y="170"/></g>
<g fill="#00FFFF"><use href="#d2" x="695" y="226"/><use href="#dp" x="701" y="226"/><use href="#d0" x="704" y="226"/></g>
<g fill="#00FFFF"><use href="#d1" x="695" y="282"/><use href="#dp" x="701" y="282"/><use href="#d0" x="704" y="282"/></g>
<g fill="#00FFFF"><use href="#d0" x="695" y="338"/><use href="#dp" x="701" y="338"/><use href="#d0" x="704" y="338"/></g>
<g fill="#808080"><use href="#d3" x="732" y="58"/><use href="#d6" x="738" y="58"/><use href="#d0" x="744" y="58"/></g>
<g fill="#808080"><use href="#d3" x="732" y="81"/><use href="#d3" x="738" y="81"/><use href="#d0" x="744" y="81"/></g>
<g fill="#808080"><use href="#d3" x="732" y="105"/><use href="#d0" x="738" y="105"/><use href="#d0" x="744" y="105"/></g>
<g fill="#808080"><use href="#d2" x="732" y="128"/><use href="#d7" x="738" y="128"/><use href="#d0" x="744" y="128"/></g>
<g fill="#808080"><use href="#d2" x="732" y="151"/><use href="#d4" x="738" y="151"/><use href="#d0" x="744" y="151"/></g>
<g fill="#808080"><use href="#d2" x="732" y="175"/><use href="#d1" x="738" y="175"/><use href="#d0" x="744" y="175"/></g>
<g fill="#808080"><use href="#d1" x="732" y="198"/><use href="#d8" x="738" y="198"/><use href="#d0" x="744" y="198"/></g>
<g fill="#808080"><use href="#d1" x="732" y="221"/><use href="#d5" x="738" y="221"/><use href="#d0" x="744" y="221"/></g>
<g fill="#808080"><use href="#d1" x="732" y="245"/><use href="#d2" x="738" y="245"/><use href="#d0" x="744" y="245"/></g>
<g fill="#808080"><use href="#d9" x="732" y="268"/><use href="#d0" x="738" y="268"/></g>
<g fill="#808080"><use href="#d6" x="732" y="291"/><use href="#d0" x="738" y="291"/></g>
<g fill="#808080"><use href="#d3" x="732" y="315"/><use href="#d0" x="738" y="315"/></g>
<g fill="#808080"><use href="#d0" x="732" y="338"/></g>
<g fill="#FF8040"><use href="#d1" x="769" y="58"/><use href="#d5" x="775" y="58"/><use href="#d0" x="781" y="58"/><use href="#d0" x="787" y="58"/></g>
<g fill="#FF8040"><use href="#d1" x="769" y="77"/><use href="#d4" x="775" y="77"/><use href="#d0" x="781" y="77"/><use href="#d0" x="787" y="77"/></g>
<g fill="#FF8040"><use href="#d1" x="769" y="95"/><use href="#d3" x="775" y="95"/><use href="#d0" x="781" y="95"/><use href="#d0" x="787" y="95"/></g>
<g fill="#FF8040"><use href="#d1" x="769" y="114"/><use href="#d2" x="775" y="114"/><use href="#d0" x="781" y="114"/><use href="#d0" x="787" y="114"/></g>
<g fill="#FF8040"><use href="#d1" x="769" y="133"/><use href="#d1" x="775" y="133"/><use href="#d0" x="781" y="133"/><use href="#d0" x="787" y="133"/></g>
<g fill="#FF8040"><use href="#d1" x="769" y="151"/><use href="#d0" x="775" y="151"/><use href="#d0" x="781" y="151"/><use href="#d0" x="787" y="151"/></g>
<g fill="#FF8040"><use href="#d9" x="769" y="170"/><use href="#d0" x="775" y="170"/><use href="#d0" x="781" y="170"/></g>
<g fill="#FF8040"><use href="#d8" x="769" y="189"/><use href="#d0" x="775" y="189"/><use href="#d0" x="781" y="189"/></g>
<g fill="#FF8040"><use href="#d7" x="769" y="207"/><use href="#d0" x="775" y="207"/><use href="#d0" x="781" y="207"/></g>
<g fill="#FF8040"><use href="#d6" x="769" y="226"/><use href="#d0" x="775" y="226"/><use href="#d0" x="781" y="226"/></g>
<g fill="#FF8040"><use href="#d5" x="769" y="245"/><use href="#d0" x="775" y="245"/><use href="#d0" x="781" y="245"/></g>
<g fill="#FF8040"><use href="#d4" x="769" y="263"/><use href="#d0" x="775" y="263"/><use href="#d0" x="781" y="263"/></g>
<g fill="#FF8040"><use href="#d3" x="769" y="282"/><use href="#d0" x="775" y="282"/><use href="#d0" x="781" y="282"/></g>
<g fill="#FF8040"><use href="#d2" x="769" y="301"/><use href="#d0" x="775" y="301"/><use href="#d0" x="781" y="301"/></g>
<g fill="#FF8040"><use href="#d1" x="769" y="319"/><use href="#d0" x="775" y="319"/><use href="#d0" x="781" y="319"/></g>
<g fill="#FF8040"><use href="#d0" x="769" y="338"/></g>
<g fill="#000"><use href="#d1" x="101" y="400"/><use href="#d7" x="107" y="400"/><use href="#dc" x="113" y="400"/><use href="#d2" x="116" y="400"/><use href="#d0" x="122" y="400"/></g>
<g fill="#000"><use href="#d4" x="184" y="400"/><use href="#dp" x="190" y="400"/><use href="#d3" x="193" y="400"/></g>
<g fill="#000"><use href="#d1" x="101" y="416"/><use href="#d4" x="107" y="416"/><use href="#dc" x="113" y="416"/><use href="#d3" x="116" y="416"/><use href="#d0" x="122" y="416"/></g>
<g fill="#000"><use href="#d6" x="184" y="416"/><use href="#dp" x="190" y="416"/><use href="#d0" x="193" y="416"/></g>
<g fill="#000"><use href="#d5" x="178" y="432"/><use href="#dp" x="184" y="432"/><use href="#d1" x="187" y="432"/><use href="#d1" x="193" y="432"/></g>
<g fill="#000"><use href="#d2" x="219" y="400"/><use href="#d2" x="225" y="400"/><use href="#dc" x="231" y="400"/><use href="#d5" x="234" y="400"/><use href="#d0" x="240" y="400"/></g>
<g fill="#000"><use href="#d8" x="305" y="400"/><use href="#d5" x="311" y="400"/></g>
<g fill="#000"><use href="#d1" x="219" y="416"/><use href="#d1" x="225" y="416"/><use href="#dc" x="231" y="416"/><use href="#d1" x="234" y="416"/><use href="#d0" x="240" y="416"/></g>
<g fill="#000"><use href="#d9" x="305" y="416"/><use href="#d0" x="311" y="416"/></g>
<g fill="#000"><use href="#d8" x="305" y="432"/><use href="#d8" x="311" y="432"/></g>
<g fill="#000"><use href="#d0" x="337" y="400"/><use href="#d0" x="343" y="400"/><use href="#dc" x="349" y="400"/><use href="#d0" x="352" y="400"/><use href="#d0" x="358" y="400"/></g>
<g fill="#000"><use href="#d1" x="402" y="400"/><use href="#d0" x="408" y="400"/><use href="#d1" x="414" y="400"/><use href="#d2" x="420" y="400"/><use href="#dp" x="426" y="400"/><use href="#d6" x="429" y="400"/></g>
<g fill="#000"><use href="#d1" x="337" y="416"/><use href="#d2" x="343" y="416"/><use href="#dc" x="349" y="416"/><use href="#d3" x="352" y="416"/><use href="#d0" x="358" y="416"/></g>
<g fill="#000"><use href="#d1" x="402" y="416"/><use href="#d0" x="408" y="416"/><use href="#d2" x="414" y="416"/><use href="#d8" x="420" y="416"/><use href="#dp" x="426" y="416"/><use href="#d3" x="429" y="416"/></g>
<g fill="#000"><use href="#d1" x="402" y="432"/><use href="#d0" x="408" y="432"/><use href="#d2" x="414" y="432"/><use href="#d4" x="420" y="432"/><use href="#dp" x="426" y="432"/><use href="#d6" x="429" y="432"/></g>
<g fill="#000"><use href="#d4" x="538" y="400"/><use href="#dp" x="544" y="400"/><use href="#d8" x="547" y="400"/></g>
<g fill="#000"><use href="#d1" x="455" y="416"/><use href="#d4" x="461" y="416"/><use href="#dc" x="467" y="416"/><use href="#d2" x="470" y="416"/><use href="#d0" x="476" y="416"/></g>
<g fill="#000"><use href="#d4" x="538" y="432"/><use href="#dp" x="544" y="432"/><use href="#d8" x="547" y="432"/></g>
<g fill="#000"><use href="#d1" x="573" y="400"/><use href="#d9" x="579" y="400"/><use href="#dc" x="585" y="400"/><use href="#d1" x="588" y="400"/><use href="#d0" x="594" y="400"/></g>
<g fill="#000"><use href="#d0" x="573" y="416"/><use href="#d9" x="579" y="416"/><use href="#dc" x="585" y="416"/><use href="#d0" x="588" y="416"/><use href="#d0" x="594" y="416"/></g>
<g fill="#000"><use href="#d0" x="691" y="416"/><use href="#d6" x="697" y="416"/><use href="#dc" x="703" y="416"/><use href="#d3" x="706" y="416"/><use href="#d0" x="712" y="416"/></g>
<g fill="#000"><use href="#d0" x="774" y="416"/><use href="#dp" x="780" y="416"/><use href="#d6" x="783" y="416"/></g>
<g fill="#000"><use href="#d3" x="774" y="432"/><use href="#dp" x="780" y="432"/><use href="#d4" x="783" y="432"/></g>
<g fill="#000"><use href="#d0" x="11" y="363"/><use href="#d8" x="17" y="363"/><use href="#dc" x="23" y="363"/><use href="#d1" x="26" y="363"/><use href="#d3" x="32" y="363"/></g>
<g fill="#000"><use href="#d0" x="291" y="363"/><use href="#d8" x="297" y="363"/><use href="#dc" x="303" y="363"/><use href="#d1" x="306" y="363"/><use href="#d8" x="312" y="363"/></g>
<g fill="#000"><use href="#d1" x="462" y="363"/><use href="#d6" x="468" y="363"/><use href="#dc" x="474" y="363"/><use href="#d3" x="477" y="363"/><use href="#d1" x="483" y="363"/></g>
</g>
</svg>
</body></html>
